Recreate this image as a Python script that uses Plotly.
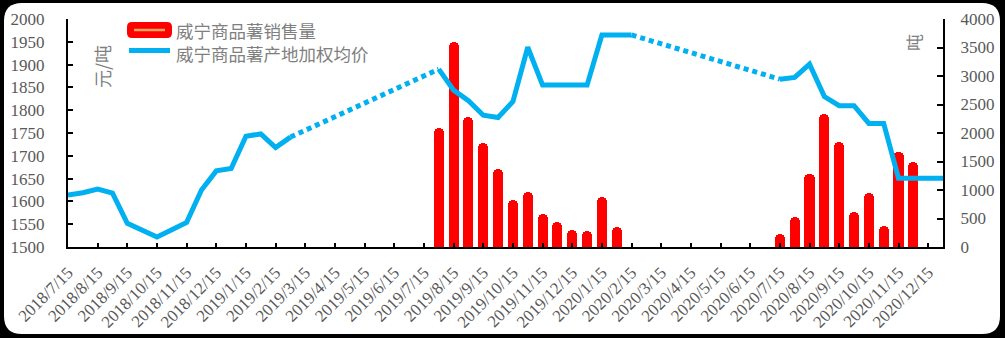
import plotly.graph_objects as go

# ---------------- data ----------------
# semi-monthly periods, index 0 = 2018/7/15, step = half month; ticks on each month's 15th
tick_labels = ["2018/7/15", "2018/8/15", "2018/9/15", "2018/10/15", "2018/11/15", "2018/12/15",
               "2019/1/15", "2019/2/15", "2019/3/15", "2019/4/15", "2019/5/15", "2019/6/15",
               "2019/7/15", "2019/8/15", "2019/9/15", "2019/10/15", "2019/11/15", "2019/12/15",
               "2020/1/15", "2020/2/15", "2020/3/15", "2020/4/15", "2020/5/15", "2020/6/15",
               "2020/7/15", "2020/8/15", "2020/9/15", "2020/10/15", "2020/11/15", "2020/12/15"]
n_periods = 60
periods = list(range(n_periods))

# 威宁商品薯产地加权均价 (元/吨), None = no quote
price = [1614, 1619, 1627, 1618, 1552, 1537, 1522, 1538, 1554, 1625, 1667, 1672, 1743, 1748, 1718, 1741,
         None, None, None, None, None, None, None, None, None,
         1890, 1844, 1821, 1789, 1784, 1819, 1938, 1855, 1855, 1855, 1855, 1965, 1965, 1965,
         None, None, None, None, None, None, None, None, None,
         1868, 1872, 1901, 1830, 1810, 1810, 1771, 1771, 1651, 1651, 1651, 1651]

# 威宁商品薯销售量 (吨)
sales = [None] * 25 + [2082, 3602, 2275, 1819, 1363, 825, 971, 579, 433, 298, 281, 871, 345] \
        + [None] * 10 + [222, 532, 1275, 2328, 1837, 620, 942, 374, 1672, 1485] + [None] * 2

name_sales = "威宁商品薯销售量"
name_price = "威宁商品薯产地加权均价"

# ---------------- layout geometry ----------------
W, H = 1005, 338
ML, MR, MT, MB = 68, 62, 19, 91
PW, PH = W - ML - MR, H - MT - MB


def px(x):
    return (x - ML) / PW


def py(y):
    return (H - MB - y) / PH


BLUE = "#00B0F0"
RED = "#FF0000"
GREY = "#595959"
LGREY = "#7f7f7f"

fig = go.Figure()

fig.add_trace(go.Bar(x=periods, y=sales, name=name_sales, yaxis="y",
                     marker=dict(color=RED, line=dict(width=0), cornerradius=5),
                     width=0.68, showlegend=False))

# dotted connectors across the gaps (built from the data endpoints)
valid = [i for i, v in enumerate(price) if v is not None]
for a, b in zip(valid[:-1], valid[1:]):
    if b - a > 1:
        fig.add_trace(go.Scatter(x=[a, b], y=[price[a], price[b]], mode="lines", yaxis="y2",
                                 line=dict(color=BLUE, width=5, dash="5px,4px"),
                                 showlegend=False, hoverinfo="skip"))

fig.add_trace(go.Scatter(x=periods, y=price, name=name_price, mode="lines", yaxis="y2",
                         line=dict(color=BLUE, width=5), connectgaps=False, showlegend=False))

tickfont = dict(family="Liberation Serif", size=17, color=GREY)

# rounded white card
x0, x1 = px(4), px(1000)
y0, y1 = py(334), py(3)
rx, ry = 18 / PW, 18 / PH
card = (f"M {x0+rx},{y1} L {x1-rx},{y1} Q {x1},{y1} {x1},{y1-ry} "
        f"L {x1},{y0+ry} Q {x1},{y0} {x1-rx},{y0} L {x0+rx},{y0} Q {x0},{y0} {x0},{y0+ry} "
        f"L {x0},{y1-ry} Q {x0},{y1} {x0+rx},{y1} Z")

# legend swatch (bar)
lx0, lx1 = px(127), px(172)
ly0, ly1 = py(38), py(22)
lrx, lry = 5 / PW, 5 / PH
swatch = (f"M {lx0+lrx},{ly1} L {lx1-lrx},{ly1} Q {lx1},{ly1} {lx1},{ly1-lry} "
          f"L {lx1},{ly0+lry} Q {lx1},{ly0} {lx1-lrx},{ly0} L {lx0+lrx},{ly0} Q {lx0},{ly0} {lx0},{ly0+lry} "
          f"L {lx0},{ly1-lry} Q {lx0},{ly1} {lx0+lrx},{ly1} Z")

shapes = [
    dict(type="path", path=card, xref="paper", yref="paper", fillcolor="white",
         line=dict(width=0), layer="below"),
    dict(type="path", path=swatch, xref="paper", yref="paper", fillcolor=RED,
         line=dict(width=0), layer="above"),
    dict(type="line", xref="paper", yref="paper", x0=px(134), x1=px(165), y0=py(30), y1=py(30),
         line=dict(color="#F4A460", width=2.5), layer="above"),
    dict(type="line", xref="paper", yref="paper", x0=px(129), x1=px(170), y0=py(50.5), y1=py(50.5),
         line=dict(color=BLUE, width=5), layer="above"),
]

cjk = "Noto Sans CJK SC"
annotations = [
    dict(text=name_sales + "<br>" + name_price, x=px(174), y=py(41.5), xref="paper", yref="paper",
         xanchor="left", yanchor="middle", align="left", showarrow=False,
         font=dict(family=cjk, size=17.5, color=LGREY)),
    dict(text="元/吨", x=px(102), y=py(67), xref="paper", yref="paper", xanchor="center",
         yanchor="middle", textangle=-90, showarrow=False, font=dict(family=cjk, size=18, color=LGREY)),
    dict(text="吨", x=px(913), y=py(43), xref="paper", yref="paper", xanchor="center",
         yanchor="middle", textangle=-90, showarrow=False, font=dict(family=cjk, size=17, color=LGREY)),
]

fig.update_layout(
    width=W, height=H,
    margin=dict(l=ML, r=MR, t=MT, b=MB),
    paper_bgcolor="black", plot_bgcolor="rgba(0,0,0,0)",
    showlegend=False,
    bargap=0,
    xaxis=dict(range=[0, n_periods - 1], tickmode="array",
               tickvals=periods[::2], ticktext=tick_labels, tickangle=-45,
               ticks="inside", ticklen=4, tickwidth=1.5, tickcolor="black",
               showline=True, linecolor="black", linewidth=2, showgrid=False, zeroline=False,
               tickfont=tickfont, ticklabelstandoff=7, fixedrange=True, automargin=False),
    yaxis=dict(range=[0, 4000], dtick=500, side="right", ticks="inside", ticklen=6,
               tickwidth=1.5, tickcolor="black", showline=True, linecolor="black", linewidth=2,
               showgrid=False, zeroline=False, tickfont=tickfont, ticklabelstandoff=12,
               automargin=False),
    yaxis2=dict(range=[1500, 2000], dtick=50, side="left", overlaying="y", ticks="inside",
                ticklen=5, tickwidth=1.5, tickcolor="black", showline=True, linecolor="black",
                linewidth=2, showgrid=False, zeroline=False, tickfont=tickfont,
                ticklabelstandoff=18, automargin=False),
    shapes=shapes,
    annotations=annotations,
)

fig.write_html("out.html")
